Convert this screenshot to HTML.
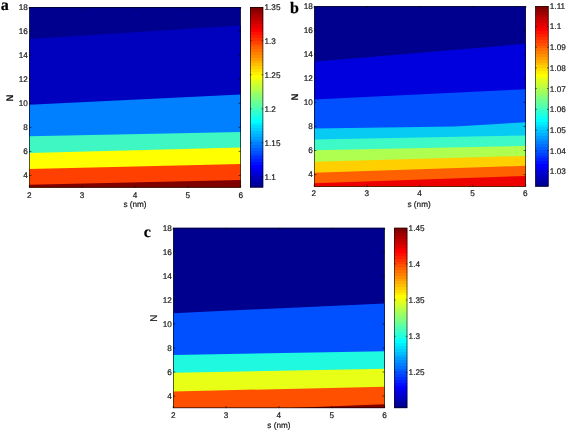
<!DOCTYPE html>
<html><head><meta charset="utf-8"><title>Contour plots</title>
<style>
html,body{margin:0;padding:0;background:#fff;}
body{width:567px;height:431px;overflow:hidden;font-family:"Liberation Sans", sans-serif;}
svg{display:block;will-change:transform;text-rendering:geometricPrecision;}
text{fill:#1a1a1a;stroke:#1a1a1a;stroke-width:0.2px;}
.L{fill:#000;stroke:#000;}
</style></head><body>
<svg width="567" height="431" viewBox="0 0 567 431">
<defs><linearGradient id="ga" x1="0" y1="1" x2="0" y2="0"><stop offset="0.00000" stop-color="rgb(0,0,143)"/><stop offset="0.01562" stop-color="rgb(0,0,143)"/><stop offset="0.01562" stop-color="rgb(0,0,159)"/><stop offset="0.03125" stop-color="rgb(0,0,159)"/><stop offset="0.03125" stop-color="rgb(0,0,175)"/><stop offset="0.04688" stop-color="rgb(0,0,175)"/><stop offset="0.04688" stop-color="rgb(0,0,191)"/><stop offset="0.06250" stop-color="rgb(0,0,191)"/><stop offset="0.06250" stop-color="rgb(0,0,207)"/><stop offset="0.07812" stop-color="rgb(0,0,207)"/><stop offset="0.07812" stop-color="rgb(0,0,223)"/><stop offset="0.09375" stop-color="rgb(0,0,223)"/><stop offset="0.09375" stop-color="rgb(0,0,239)"/><stop offset="0.10938" stop-color="rgb(0,0,239)"/><stop offset="0.10938" stop-color="rgb(0,0,255)"/><stop offset="0.12500" stop-color="rgb(0,0,255)"/><stop offset="0.12500" stop-color="rgb(0,16,255)"/><stop offset="0.14062" stop-color="rgb(0,16,255)"/><stop offset="0.14062" stop-color="rgb(0,32,255)"/><stop offset="0.15625" stop-color="rgb(0,32,255)"/><stop offset="0.15625" stop-color="rgb(0,48,255)"/><stop offset="0.17188" stop-color="rgb(0,48,255)"/><stop offset="0.17188" stop-color="rgb(0,64,255)"/><stop offset="0.18750" stop-color="rgb(0,64,255)"/><stop offset="0.18750" stop-color="rgb(0,80,255)"/><stop offset="0.20312" stop-color="rgb(0,80,255)"/><stop offset="0.20312" stop-color="rgb(0,96,255)"/><stop offset="0.21875" stop-color="rgb(0,96,255)"/><stop offset="0.21875" stop-color="rgb(0,112,255)"/><stop offset="0.23438" stop-color="rgb(0,112,255)"/><stop offset="0.23438" stop-color="rgb(0,128,255)"/><stop offset="0.25000" stop-color="rgb(0,128,255)"/><stop offset="0.25000" stop-color="rgb(0,143,255)"/><stop offset="0.26562" stop-color="rgb(0,143,255)"/><stop offset="0.26562" stop-color="rgb(0,159,255)"/><stop offset="0.28125" stop-color="rgb(0,159,255)"/><stop offset="0.28125" stop-color="rgb(0,175,255)"/><stop offset="0.29688" stop-color="rgb(0,175,255)"/><stop offset="0.29688" stop-color="rgb(0,191,255)"/><stop offset="0.31250" stop-color="rgb(0,191,255)"/><stop offset="0.31250" stop-color="rgb(0,207,255)"/><stop offset="0.32812" stop-color="rgb(0,207,255)"/><stop offset="0.32812" stop-color="rgb(0,223,255)"/><stop offset="0.34375" stop-color="rgb(0,223,255)"/><stop offset="0.34375" stop-color="rgb(0,239,255)"/><stop offset="0.35938" stop-color="rgb(0,239,255)"/><stop offset="0.35938" stop-color="rgb(0,255,255)"/><stop offset="0.37500" stop-color="rgb(0,255,255)"/><stop offset="0.37500" stop-color="rgb(16,255,239)"/><stop offset="0.39062" stop-color="rgb(16,255,239)"/><stop offset="0.39062" stop-color="rgb(32,255,223)"/><stop offset="0.40625" stop-color="rgb(32,255,223)"/><stop offset="0.40625" stop-color="rgb(48,255,207)"/><stop offset="0.42188" stop-color="rgb(48,255,207)"/><stop offset="0.42188" stop-color="rgb(64,255,191)"/><stop offset="0.43750" stop-color="rgb(64,255,191)"/><stop offset="0.43750" stop-color="rgb(80,255,175)"/><stop offset="0.45312" stop-color="rgb(80,255,175)"/><stop offset="0.45312" stop-color="rgb(96,255,159)"/><stop offset="0.46875" stop-color="rgb(96,255,159)"/><stop offset="0.46875" stop-color="rgb(112,255,143)"/><stop offset="0.48438" stop-color="rgb(112,255,143)"/><stop offset="0.48438" stop-color="rgb(128,255,128)"/><stop offset="0.50000" stop-color="rgb(128,255,128)"/><stop offset="0.50000" stop-color="rgb(143,255,112)"/><stop offset="0.51562" stop-color="rgb(143,255,112)"/><stop offset="0.51562" stop-color="rgb(159,255,96)"/><stop offset="0.53125" stop-color="rgb(159,255,96)"/><stop offset="0.53125" stop-color="rgb(175,255,80)"/><stop offset="0.54688" stop-color="rgb(175,255,80)"/><stop offset="0.54688" stop-color="rgb(191,255,64)"/><stop offset="0.56250" stop-color="rgb(191,255,64)"/><stop offset="0.56250" stop-color="rgb(207,255,48)"/><stop offset="0.57812" stop-color="rgb(207,255,48)"/><stop offset="0.57812" stop-color="rgb(223,255,32)"/><stop offset="0.59375" stop-color="rgb(223,255,32)"/><stop offset="0.59375" stop-color="rgb(239,255,16)"/><stop offset="0.60938" stop-color="rgb(239,255,16)"/><stop offset="0.60938" stop-color="rgb(255,255,0)"/><stop offset="0.62500" stop-color="rgb(255,255,0)"/><stop offset="0.62500" stop-color="rgb(255,239,0)"/><stop offset="0.64062" stop-color="rgb(255,239,0)"/><stop offset="0.64062" stop-color="rgb(255,223,0)"/><stop offset="0.65625" stop-color="rgb(255,223,0)"/><stop offset="0.65625" stop-color="rgb(255,207,0)"/><stop offset="0.67188" stop-color="rgb(255,207,0)"/><stop offset="0.67188" stop-color="rgb(255,191,0)"/><stop offset="0.68750" stop-color="rgb(255,191,0)"/><stop offset="0.68750" stop-color="rgb(255,175,0)"/><stop offset="0.70312" stop-color="rgb(255,175,0)"/><stop offset="0.70312" stop-color="rgb(255,159,0)"/><stop offset="0.71875" stop-color="rgb(255,159,0)"/><stop offset="0.71875" stop-color="rgb(255,143,0)"/><stop offset="0.73438" stop-color="rgb(255,143,0)"/><stop offset="0.73438" stop-color="rgb(255,128,0)"/><stop offset="0.75000" stop-color="rgb(255,128,0)"/><stop offset="0.75000" stop-color="rgb(255,112,0)"/><stop offset="0.76562" stop-color="rgb(255,112,0)"/><stop offset="0.76562" stop-color="rgb(255,96,0)"/><stop offset="0.78125" stop-color="rgb(255,96,0)"/><stop offset="0.78125" stop-color="rgb(255,80,0)"/><stop offset="0.79688" stop-color="rgb(255,80,0)"/><stop offset="0.79688" stop-color="rgb(255,64,0)"/><stop offset="0.81250" stop-color="rgb(255,64,0)"/><stop offset="0.81250" stop-color="rgb(255,48,0)"/><stop offset="0.82812" stop-color="rgb(255,48,0)"/><stop offset="0.82812" stop-color="rgb(255,32,0)"/><stop offset="0.84375" stop-color="rgb(255,32,0)"/><stop offset="0.84375" stop-color="rgb(255,16,0)"/><stop offset="0.85938" stop-color="rgb(255,16,0)"/><stop offset="0.85938" stop-color="rgb(255,0,0)"/><stop offset="0.87500" stop-color="rgb(255,0,0)"/><stop offset="0.87500" stop-color="rgb(239,0,0)"/><stop offset="0.89062" stop-color="rgb(239,0,0)"/><stop offset="0.89062" stop-color="rgb(223,0,0)"/><stop offset="0.90625" stop-color="rgb(223,0,0)"/><stop offset="0.90625" stop-color="rgb(207,0,0)"/><stop offset="0.92188" stop-color="rgb(207,0,0)"/><stop offset="0.92188" stop-color="rgb(191,0,0)"/><stop offset="0.93750" stop-color="rgb(191,0,0)"/><stop offset="0.93750" stop-color="rgb(175,0,0)"/><stop offset="0.95312" stop-color="rgb(175,0,0)"/><stop offset="0.95312" stop-color="rgb(159,0,0)"/><stop offset="0.96875" stop-color="rgb(159,0,0)"/><stop offset="0.96875" stop-color="rgb(143,0,0)"/><stop offset="0.98438" stop-color="rgb(143,0,0)"/><stop offset="0.98438" stop-color="rgb(128,0,0)"/><stop offset="1.00000" stop-color="rgb(128,0,0)"/></linearGradient><linearGradient id="gb" x1="0" y1="1" x2="0" y2="0"><stop offset="0.00000" stop-color="rgb(0,0,143)"/><stop offset="0.01562" stop-color="rgb(0,0,143)"/><stop offset="0.01562" stop-color="rgb(0,0,159)"/><stop offset="0.03125" stop-color="rgb(0,0,159)"/><stop offset="0.03125" stop-color="rgb(0,0,175)"/><stop offset="0.04688" stop-color="rgb(0,0,175)"/><stop offset="0.04688" stop-color="rgb(0,0,191)"/><stop offset="0.06250" stop-color="rgb(0,0,191)"/><stop offset="0.06250" stop-color="rgb(0,0,207)"/><stop offset="0.07812" stop-color="rgb(0,0,207)"/><stop offset="0.07812" stop-color="rgb(0,0,223)"/><stop offset="0.09375" stop-color="rgb(0,0,223)"/><stop offset="0.09375" stop-color="rgb(0,0,239)"/><stop offset="0.10938" stop-color="rgb(0,0,239)"/><stop offset="0.10938" stop-color="rgb(0,0,255)"/><stop offset="0.12500" stop-color="rgb(0,0,255)"/><stop offset="0.12500" stop-color="rgb(0,16,255)"/><stop offset="0.14062" stop-color="rgb(0,16,255)"/><stop offset="0.14062" stop-color="rgb(0,32,255)"/><stop offset="0.15625" stop-color="rgb(0,32,255)"/><stop offset="0.15625" stop-color="rgb(0,48,255)"/><stop offset="0.17188" stop-color="rgb(0,48,255)"/><stop offset="0.17188" stop-color="rgb(0,64,255)"/><stop offset="0.18750" stop-color="rgb(0,64,255)"/><stop offset="0.18750" stop-color="rgb(0,80,255)"/><stop offset="0.20312" stop-color="rgb(0,80,255)"/><stop offset="0.20312" stop-color="rgb(0,96,255)"/><stop offset="0.21875" stop-color="rgb(0,96,255)"/><stop offset="0.21875" stop-color="rgb(0,112,255)"/><stop offset="0.23438" stop-color="rgb(0,112,255)"/><stop offset="0.23438" stop-color="rgb(0,128,255)"/><stop offset="0.25000" stop-color="rgb(0,128,255)"/><stop offset="0.25000" stop-color="rgb(0,143,255)"/><stop offset="0.26562" stop-color="rgb(0,143,255)"/><stop offset="0.26562" stop-color="rgb(0,159,255)"/><stop offset="0.28125" stop-color="rgb(0,159,255)"/><stop offset="0.28125" stop-color="rgb(0,175,255)"/><stop offset="0.29688" stop-color="rgb(0,175,255)"/><stop offset="0.29688" stop-color="rgb(0,191,255)"/><stop offset="0.31250" stop-color="rgb(0,191,255)"/><stop offset="0.31250" stop-color="rgb(0,207,255)"/><stop offset="0.32812" stop-color="rgb(0,207,255)"/><stop offset="0.32812" stop-color="rgb(0,223,255)"/><stop offset="0.34375" stop-color="rgb(0,223,255)"/><stop offset="0.34375" stop-color="rgb(0,239,255)"/><stop offset="0.35938" stop-color="rgb(0,239,255)"/><stop offset="0.35938" stop-color="rgb(0,255,255)"/><stop offset="0.37500" stop-color="rgb(0,255,255)"/><stop offset="0.37500" stop-color="rgb(16,255,239)"/><stop offset="0.39062" stop-color="rgb(16,255,239)"/><stop offset="0.39062" stop-color="rgb(32,255,223)"/><stop offset="0.40625" stop-color="rgb(32,255,223)"/><stop offset="0.40625" stop-color="rgb(48,255,207)"/><stop offset="0.42188" stop-color="rgb(48,255,207)"/><stop offset="0.42188" stop-color="rgb(64,255,191)"/><stop offset="0.43750" stop-color="rgb(64,255,191)"/><stop offset="0.43750" stop-color="rgb(80,255,175)"/><stop offset="0.45312" stop-color="rgb(80,255,175)"/><stop offset="0.45312" stop-color="rgb(96,255,159)"/><stop offset="0.46875" stop-color="rgb(96,255,159)"/><stop offset="0.46875" stop-color="rgb(112,255,143)"/><stop offset="0.48438" stop-color="rgb(112,255,143)"/><stop offset="0.48438" stop-color="rgb(128,255,128)"/><stop offset="0.50000" stop-color="rgb(128,255,128)"/><stop offset="0.50000" stop-color="rgb(143,255,112)"/><stop offset="0.51562" stop-color="rgb(143,255,112)"/><stop offset="0.51562" stop-color="rgb(159,255,96)"/><stop offset="0.53125" stop-color="rgb(159,255,96)"/><stop offset="0.53125" stop-color="rgb(175,255,80)"/><stop offset="0.54688" stop-color="rgb(175,255,80)"/><stop offset="0.54688" stop-color="rgb(191,255,64)"/><stop offset="0.56250" stop-color="rgb(191,255,64)"/><stop offset="0.56250" stop-color="rgb(207,255,48)"/><stop offset="0.57812" stop-color="rgb(207,255,48)"/><stop offset="0.57812" stop-color="rgb(223,255,32)"/><stop offset="0.59375" stop-color="rgb(223,255,32)"/><stop offset="0.59375" stop-color="rgb(239,255,16)"/><stop offset="0.60938" stop-color="rgb(239,255,16)"/><stop offset="0.60938" stop-color="rgb(255,255,0)"/><stop offset="0.62500" stop-color="rgb(255,255,0)"/><stop offset="0.62500" stop-color="rgb(255,239,0)"/><stop offset="0.64062" stop-color="rgb(255,239,0)"/><stop offset="0.64062" stop-color="rgb(255,223,0)"/><stop offset="0.65625" stop-color="rgb(255,223,0)"/><stop offset="0.65625" stop-color="rgb(255,207,0)"/><stop offset="0.67188" stop-color="rgb(255,207,0)"/><stop offset="0.67188" stop-color="rgb(255,191,0)"/><stop offset="0.68750" stop-color="rgb(255,191,0)"/><stop offset="0.68750" stop-color="rgb(255,175,0)"/><stop offset="0.70312" stop-color="rgb(255,175,0)"/><stop offset="0.70312" stop-color="rgb(255,159,0)"/><stop offset="0.71875" stop-color="rgb(255,159,0)"/><stop offset="0.71875" stop-color="rgb(255,143,0)"/><stop offset="0.73438" stop-color="rgb(255,143,0)"/><stop offset="0.73438" stop-color="rgb(255,128,0)"/><stop offset="0.75000" stop-color="rgb(255,128,0)"/><stop offset="0.75000" stop-color="rgb(255,112,0)"/><stop offset="0.76562" stop-color="rgb(255,112,0)"/><stop offset="0.76562" stop-color="rgb(255,96,0)"/><stop offset="0.78125" stop-color="rgb(255,96,0)"/><stop offset="0.78125" stop-color="rgb(255,80,0)"/><stop offset="0.79688" stop-color="rgb(255,80,0)"/><stop offset="0.79688" stop-color="rgb(255,64,0)"/><stop offset="0.81250" stop-color="rgb(255,64,0)"/><stop offset="0.81250" stop-color="rgb(255,48,0)"/><stop offset="0.82812" stop-color="rgb(255,48,0)"/><stop offset="0.82812" stop-color="rgb(255,32,0)"/><stop offset="0.84375" stop-color="rgb(255,32,0)"/><stop offset="0.84375" stop-color="rgb(255,16,0)"/><stop offset="0.85938" stop-color="rgb(255,16,0)"/><stop offset="0.85938" stop-color="rgb(255,0,0)"/><stop offset="0.87500" stop-color="rgb(255,0,0)"/><stop offset="0.87500" stop-color="rgb(239,0,0)"/><stop offset="0.89062" stop-color="rgb(239,0,0)"/><stop offset="0.89062" stop-color="rgb(223,0,0)"/><stop offset="0.90625" stop-color="rgb(223,0,0)"/><stop offset="0.90625" stop-color="rgb(207,0,0)"/><stop offset="0.92188" stop-color="rgb(207,0,0)"/><stop offset="0.92188" stop-color="rgb(191,0,0)"/><stop offset="0.93750" stop-color="rgb(191,0,0)"/><stop offset="0.93750" stop-color="rgb(175,0,0)"/><stop offset="0.95312" stop-color="rgb(175,0,0)"/><stop offset="0.95312" stop-color="rgb(159,0,0)"/><stop offset="0.96875" stop-color="rgb(159,0,0)"/><stop offset="0.96875" stop-color="rgb(143,0,0)"/><stop offset="0.98438" stop-color="rgb(143,0,0)"/><stop offset="0.98438" stop-color="rgb(128,0,0)"/><stop offset="1.00000" stop-color="rgb(128,0,0)"/></linearGradient><linearGradient id="gc" x1="0" y1="1" x2="0" y2="0"><stop offset="0.00000" stop-color="rgb(0,0,143)"/><stop offset="0.01562" stop-color="rgb(0,0,143)"/><stop offset="0.01562" stop-color="rgb(0,0,159)"/><stop offset="0.03125" stop-color="rgb(0,0,159)"/><stop offset="0.03125" stop-color="rgb(0,0,175)"/><stop offset="0.04688" stop-color="rgb(0,0,175)"/><stop offset="0.04688" stop-color="rgb(0,0,191)"/><stop offset="0.06250" stop-color="rgb(0,0,191)"/><stop offset="0.06250" stop-color="rgb(0,0,207)"/><stop offset="0.07812" stop-color="rgb(0,0,207)"/><stop offset="0.07812" stop-color="rgb(0,0,223)"/><stop offset="0.09375" stop-color="rgb(0,0,223)"/><stop offset="0.09375" stop-color="rgb(0,0,239)"/><stop offset="0.10938" stop-color="rgb(0,0,239)"/><stop offset="0.10938" stop-color="rgb(0,0,255)"/><stop offset="0.12500" stop-color="rgb(0,0,255)"/><stop offset="0.12500" stop-color="rgb(0,16,255)"/><stop offset="0.14062" stop-color="rgb(0,16,255)"/><stop offset="0.14062" stop-color="rgb(0,32,255)"/><stop offset="0.15625" stop-color="rgb(0,32,255)"/><stop offset="0.15625" stop-color="rgb(0,48,255)"/><stop offset="0.17188" stop-color="rgb(0,48,255)"/><stop offset="0.17188" stop-color="rgb(0,64,255)"/><stop offset="0.18750" stop-color="rgb(0,64,255)"/><stop offset="0.18750" stop-color="rgb(0,80,255)"/><stop offset="0.20312" stop-color="rgb(0,80,255)"/><stop offset="0.20312" stop-color="rgb(0,96,255)"/><stop offset="0.21875" stop-color="rgb(0,96,255)"/><stop offset="0.21875" stop-color="rgb(0,112,255)"/><stop offset="0.23438" stop-color="rgb(0,112,255)"/><stop offset="0.23438" stop-color="rgb(0,128,255)"/><stop offset="0.25000" stop-color="rgb(0,128,255)"/><stop offset="0.25000" stop-color="rgb(0,143,255)"/><stop offset="0.26562" stop-color="rgb(0,143,255)"/><stop offset="0.26562" stop-color="rgb(0,159,255)"/><stop offset="0.28125" stop-color="rgb(0,159,255)"/><stop offset="0.28125" stop-color="rgb(0,175,255)"/><stop offset="0.29688" stop-color="rgb(0,175,255)"/><stop offset="0.29688" stop-color="rgb(0,191,255)"/><stop offset="0.31250" stop-color="rgb(0,191,255)"/><stop offset="0.31250" stop-color="rgb(0,207,255)"/><stop offset="0.32812" stop-color="rgb(0,207,255)"/><stop offset="0.32812" stop-color="rgb(0,223,255)"/><stop offset="0.34375" stop-color="rgb(0,223,255)"/><stop offset="0.34375" stop-color="rgb(0,239,255)"/><stop offset="0.35938" stop-color="rgb(0,239,255)"/><stop offset="0.35938" stop-color="rgb(0,255,255)"/><stop offset="0.37500" stop-color="rgb(0,255,255)"/><stop offset="0.37500" stop-color="rgb(16,255,239)"/><stop offset="0.39062" stop-color="rgb(16,255,239)"/><stop offset="0.39062" stop-color="rgb(32,255,223)"/><stop offset="0.40625" stop-color="rgb(32,255,223)"/><stop offset="0.40625" stop-color="rgb(48,255,207)"/><stop offset="0.42188" stop-color="rgb(48,255,207)"/><stop offset="0.42188" stop-color="rgb(64,255,191)"/><stop offset="0.43750" stop-color="rgb(64,255,191)"/><stop offset="0.43750" stop-color="rgb(80,255,175)"/><stop offset="0.45312" stop-color="rgb(80,255,175)"/><stop offset="0.45312" stop-color="rgb(96,255,159)"/><stop offset="0.46875" stop-color="rgb(96,255,159)"/><stop offset="0.46875" stop-color="rgb(112,255,143)"/><stop offset="0.48438" stop-color="rgb(112,255,143)"/><stop offset="0.48438" stop-color="rgb(128,255,128)"/><stop offset="0.50000" stop-color="rgb(128,255,128)"/><stop offset="0.50000" stop-color="rgb(143,255,112)"/><stop offset="0.51562" stop-color="rgb(143,255,112)"/><stop offset="0.51562" stop-color="rgb(159,255,96)"/><stop offset="0.53125" stop-color="rgb(159,255,96)"/><stop offset="0.53125" stop-color="rgb(175,255,80)"/><stop offset="0.54688" stop-color="rgb(175,255,80)"/><stop offset="0.54688" stop-color="rgb(191,255,64)"/><stop offset="0.56250" stop-color="rgb(191,255,64)"/><stop offset="0.56250" stop-color="rgb(207,255,48)"/><stop offset="0.57812" stop-color="rgb(207,255,48)"/><stop offset="0.57812" stop-color="rgb(223,255,32)"/><stop offset="0.59375" stop-color="rgb(223,255,32)"/><stop offset="0.59375" stop-color="rgb(239,255,16)"/><stop offset="0.60938" stop-color="rgb(239,255,16)"/><stop offset="0.60938" stop-color="rgb(255,255,0)"/><stop offset="0.62500" stop-color="rgb(255,255,0)"/><stop offset="0.62500" stop-color="rgb(255,239,0)"/><stop offset="0.64062" stop-color="rgb(255,239,0)"/><stop offset="0.64062" stop-color="rgb(255,223,0)"/><stop offset="0.65625" stop-color="rgb(255,223,0)"/><stop offset="0.65625" stop-color="rgb(255,207,0)"/><stop offset="0.67188" stop-color="rgb(255,207,0)"/><stop offset="0.67188" stop-color="rgb(255,191,0)"/><stop offset="0.68750" stop-color="rgb(255,191,0)"/><stop offset="0.68750" stop-color="rgb(255,175,0)"/><stop offset="0.70312" stop-color="rgb(255,175,0)"/><stop offset="0.70312" stop-color="rgb(255,159,0)"/><stop offset="0.71875" stop-color="rgb(255,159,0)"/><stop offset="0.71875" stop-color="rgb(255,143,0)"/><stop offset="0.73438" stop-color="rgb(255,143,0)"/><stop offset="0.73438" stop-color="rgb(255,128,0)"/><stop offset="0.75000" stop-color="rgb(255,128,0)"/><stop offset="0.75000" stop-color="rgb(255,112,0)"/><stop offset="0.76562" stop-color="rgb(255,112,0)"/><stop offset="0.76562" stop-color="rgb(255,96,0)"/><stop offset="0.78125" stop-color="rgb(255,96,0)"/><stop offset="0.78125" stop-color="rgb(255,80,0)"/><stop offset="0.79688" stop-color="rgb(255,80,0)"/><stop offset="0.79688" stop-color="rgb(255,64,0)"/><stop offset="0.81250" stop-color="rgb(255,64,0)"/><stop offset="0.81250" stop-color="rgb(255,48,0)"/><stop offset="0.82812" stop-color="rgb(255,48,0)"/><stop offset="0.82812" stop-color="rgb(255,32,0)"/><stop offset="0.84375" stop-color="rgb(255,32,0)"/><stop offset="0.84375" stop-color="rgb(255,16,0)"/><stop offset="0.85938" stop-color="rgb(255,16,0)"/><stop offset="0.85938" stop-color="rgb(255,0,0)"/><stop offset="0.87500" stop-color="rgb(255,0,0)"/><stop offset="0.87500" stop-color="rgb(239,0,0)"/><stop offset="0.89062" stop-color="rgb(239,0,0)"/><stop offset="0.89062" stop-color="rgb(223,0,0)"/><stop offset="0.90625" stop-color="rgb(223,0,0)"/><stop offset="0.90625" stop-color="rgb(207,0,0)"/><stop offset="0.92188" stop-color="rgb(207,0,0)"/><stop offset="0.92188" stop-color="rgb(191,0,0)"/><stop offset="0.93750" stop-color="rgb(191,0,0)"/><stop offset="0.93750" stop-color="rgb(175,0,0)"/><stop offset="0.95312" stop-color="rgb(175,0,0)"/><stop offset="0.95312" stop-color="rgb(159,0,0)"/><stop offset="0.96875" stop-color="rgb(159,0,0)"/><stop offset="0.96875" stop-color="rgb(143,0,0)"/><stop offset="0.98438" stop-color="rgb(143,0,0)"/><stop offset="0.98438" stop-color="rgb(128,0,0)"/><stop offset="1.00000" stop-color="rgb(128,0,0)"/></linearGradient></defs>
<rect width="567" height="431" fill="#fff"/>
<g font-family="Liberation Sans, sans-serif" font-size="8.2">
<rect x="29.30" y="7.00" width="211.40" height="180.50" fill="rgb(0,0,143)"/>
<polygon points="29.30,39.10 240.70,25.60 240.70,187.50 29.30,187.50" fill="rgb(0,0,191)"/>
<polygon points="29.30,104.85 240.70,94.60 240.70,187.50 29.30,187.50" fill="rgb(0,128,255)"/>
<polygon points="29.30,136.20 240.70,132.00 240.70,187.50 29.30,187.50" fill="rgb(62,247,195)"/>
<polygon points="29.30,153.00 240.70,147.60 240.70,187.50 29.30,187.50" fill="rgb(255,255,0)"/>
<polygon points="29.30,168.90 240.70,164.00 240.70,187.50 29.30,187.50" fill="rgb(255,64,0)"/>
<polygon points="29.30,184.70 240.70,180.00 240.70,187.50 29.30,187.50" fill="rgb(128,0,0)"/>
<rect x="29.60" y="7.30" width="210.80" height="179.90" fill="none" stroke="#000" stroke-width="0.6"/>
<line x1="29.30" y1="187.50" x2="29.30" y2="185.40" stroke="#000" stroke-width="0.6"/>
<line x1="29.30" y1="7.00" x2="29.30" y2="9.10" stroke="#000" stroke-width="0.6"/>
<text x="29.30" y="197.80" text-anchor="middle">2</text>
<line x1="82.15" y1="187.50" x2="82.15" y2="185.40" stroke="#000" stroke-width="0.6"/>
<line x1="82.15" y1="7.00" x2="82.15" y2="9.10" stroke="#000" stroke-width="0.6"/>
<text x="82.15" y="197.80" text-anchor="middle">3</text>
<line x1="135.00" y1="187.50" x2="135.00" y2="185.40" stroke="#000" stroke-width="0.6"/>
<line x1="135.00" y1="7.00" x2="135.00" y2="9.10" stroke="#000" stroke-width="0.6"/>
<text x="135.00" y="197.80" text-anchor="middle">4</text>
<line x1="187.85" y1="187.50" x2="187.85" y2="185.40" stroke="#000" stroke-width="0.6"/>
<line x1="187.85" y1="7.00" x2="187.85" y2="9.10" stroke="#000" stroke-width="0.6"/>
<text x="187.85" y="197.80" text-anchor="middle">5</text>
<line x1="240.70" y1="187.50" x2="240.70" y2="185.40" stroke="#000" stroke-width="0.6"/>
<line x1="240.70" y1="7.00" x2="240.70" y2="9.10" stroke="#000" stroke-width="0.6"/>
<text x="240.70" y="197.80" text-anchor="middle">6</text>
<line x1="29.30" y1="175.47" x2="31.40" y2="175.47" stroke="#000" stroke-width="0.6"/>
<line x1="240.70" y1="175.47" x2="238.60" y2="175.47" stroke="#000" stroke-width="0.6"/>
<text x="27.90" y="178.37" text-anchor="end">4</text>
<line x1="29.30" y1="151.40" x2="31.40" y2="151.40" stroke="#000" stroke-width="0.6"/>
<line x1="240.70" y1="151.40" x2="238.60" y2="151.40" stroke="#000" stroke-width="0.6"/>
<text x="27.90" y="154.30" text-anchor="end">6</text>
<line x1="29.30" y1="127.33" x2="31.40" y2="127.33" stroke="#000" stroke-width="0.6"/>
<line x1="240.70" y1="127.33" x2="238.60" y2="127.33" stroke="#000" stroke-width="0.6"/>
<text x="27.90" y="130.23" text-anchor="end">8</text>
<line x1="29.30" y1="103.27" x2="31.40" y2="103.27" stroke="#000" stroke-width="0.6"/>
<line x1="240.70" y1="103.27" x2="238.60" y2="103.27" stroke="#000" stroke-width="0.6"/>
<text x="27.90" y="106.17" text-anchor="end">10</text>
<line x1="29.30" y1="79.20" x2="31.40" y2="79.20" stroke="#000" stroke-width="0.6"/>
<line x1="240.70" y1="79.20" x2="238.60" y2="79.20" stroke="#000" stroke-width="0.6"/>
<text x="27.90" y="82.10" text-anchor="end">12</text>
<line x1="29.30" y1="55.13" x2="31.40" y2="55.13" stroke="#000" stroke-width="0.6"/>
<line x1="240.70" y1="55.13" x2="238.60" y2="55.13" stroke="#000" stroke-width="0.6"/>
<text x="27.90" y="58.03" text-anchor="end">14</text>
<line x1="29.30" y1="31.07" x2="31.40" y2="31.07" stroke="#000" stroke-width="0.6"/>
<line x1="240.70" y1="31.07" x2="238.60" y2="31.07" stroke="#000" stroke-width="0.6"/>
<text x="27.90" y="33.97" text-anchor="end">16</text>
<text x="27.90" y="9.90" text-anchor="end">18</text>
<text x="135.00" y="207.30" text-anchor="middle">s (nm)</text>
<text x="12.70" y="97.95" text-anchor="middle" transform="rotate(-90 12.70 97.95)" font-size="9.5" font-weight="bold">N</text>
<rect x="250.00" y="7.00" width="13.20" height="180.50" fill="url(#ga)"/>
<rect x="250.30" y="7.30" width="12.60" height="179.90" fill="none" stroke="#000" stroke-width="0.6"/>
<text x="264.50" y="9.80">1.35</text>
<line x1="250.00" y1="40.86" x2="251.50" y2="40.86" stroke="#000" stroke-width="0.6"/>
<line x1="263.20" y1="40.86" x2="261.70" y2="40.86" stroke="#000" stroke-width="0.6"/>
<text x="264.50" y="43.76">1.3</text>
<line x1="250.00" y1="74.82" x2="251.50" y2="74.82" stroke="#000" stroke-width="0.6"/>
<line x1="263.20" y1="74.82" x2="261.70" y2="74.82" stroke="#000" stroke-width="0.6"/>
<text x="264.50" y="77.72">1.25</text>
<line x1="250.00" y1="108.78" x2="251.50" y2="108.78" stroke="#000" stroke-width="0.6"/>
<line x1="263.20" y1="108.78" x2="261.70" y2="108.78" stroke="#000" stroke-width="0.6"/>
<text x="264.50" y="111.68">1.2</text>
<line x1="250.00" y1="142.74" x2="251.50" y2="142.74" stroke="#000" stroke-width="0.6"/>
<line x1="263.20" y1="142.74" x2="261.70" y2="142.74" stroke="#000" stroke-width="0.6"/>
<text x="264.50" y="145.64">1.15</text>
<line x1="250.00" y1="176.70" x2="251.50" y2="176.70" stroke="#000" stroke-width="0.6"/>
<line x1="263.20" y1="176.70" x2="261.70" y2="176.70" stroke="#000" stroke-width="0.6"/>
<text x="264.50" y="179.60">1.1</text>
<text x="0.80" y="9.60" font-family="Liberation Serif, serif" font-weight="bold" font-size="16.0" class="L">a</text>
<rect x="314.20" y="6.10" width="211.60" height="180.50" fill="rgb(0,0,143)"/>
<polygon points="314.20,61.80 525.80,43.80 525.80,186.60 314.20,186.60" fill="rgb(0,0,223)"/>
<polygon points="314.20,99.50 525.80,89.20 525.80,186.60 314.20,186.60" fill="rgb(0,80,255)"/>
<polygon points="314.20,128.60 455.00,126.50 525.80,122.30 525.80,186.60 314.20,186.60" fill="rgb(8,203,243)"/>
<polygon points="314.20,139.50 525.80,135.40 525.80,186.60 314.20,186.60" fill="rgb(62,250,198)"/>
<polygon points="314.20,150.35 525.80,145.80 525.80,186.60 314.20,186.60" fill="rgb(175,255,80)"/>
<polygon points="314.20,161.70 525.80,155.90 525.80,186.60 314.20,186.60" fill="rgb(255,207,0)"/>
<polygon points="314.20,172.80 525.80,165.80 525.80,186.60 314.20,186.60" fill="rgb(255,96,0)"/>
<polygon points="314.20,183.20 525.80,175.90 525.80,186.60 314.20,186.60" fill="rgb(239,0,0)"/>
<rect x="314.50" y="6.40" width="211.00" height="179.90" fill="none" stroke="#000" stroke-width="0.6"/>
<line x1="314.20" y1="186.60" x2="314.20" y2="184.50" stroke="#000" stroke-width="0.6"/>
<line x1="314.20" y1="6.10" x2="314.20" y2="8.20" stroke="#000" stroke-width="0.6"/>
<text x="313.80" y="195.90" text-anchor="middle">2</text>
<line x1="367.10" y1="186.60" x2="367.10" y2="184.50" stroke="#000" stroke-width="0.6"/>
<line x1="367.10" y1="6.10" x2="367.10" y2="8.20" stroke="#000" stroke-width="0.6"/>
<text x="366.70" y="195.90" text-anchor="middle">3</text>
<line x1="420.00" y1="186.60" x2="420.00" y2="184.50" stroke="#000" stroke-width="0.6"/>
<line x1="420.00" y1="6.10" x2="420.00" y2="8.20" stroke="#000" stroke-width="0.6"/>
<text x="419.60" y="195.90" text-anchor="middle">4</text>
<line x1="472.90" y1="186.60" x2="472.90" y2="184.50" stroke="#000" stroke-width="0.6"/>
<line x1="472.90" y1="6.10" x2="472.90" y2="8.20" stroke="#000" stroke-width="0.6"/>
<text x="472.50" y="195.90" text-anchor="middle">5</text>
<line x1="525.80" y1="186.60" x2="525.80" y2="184.50" stroke="#000" stroke-width="0.6"/>
<line x1="525.80" y1="6.10" x2="525.80" y2="8.20" stroke="#000" stroke-width="0.6"/>
<text x="525.40" y="195.90" text-anchor="middle">6</text>
<line x1="314.20" y1="174.57" x2="316.30" y2="174.57" stroke="#000" stroke-width="0.6"/>
<line x1="525.80" y1="174.57" x2="523.70" y2="174.57" stroke="#000" stroke-width="0.6"/>
<text x="312.80" y="177.47" text-anchor="end">4</text>
<line x1="314.20" y1="150.50" x2="316.30" y2="150.50" stroke="#000" stroke-width="0.6"/>
<line x1="525.80" y1="150.50" x2="523.70" y2="150.50" stroke="#000" stroke-width="0.6"/>
<text x="312.80" y="153.40" text-anchor="end">6</text>
<line x1="314.20" y1="126.43" x2="316.30" y2="126.43" stroke="#000" stroke-width="0.6"/>
<line x1="525.80" y1="126.43" x2="523.70" y2="126.43" stroke="#000" stroke-width="0.6"/>
<text x="312.80" y="129.33" text-anchor="end">8</text>
<line x1="314.20" y1="102.37" x2="316.30" y2="102.37" stroke="#000" stroke-width="0.6"/>
<line x1="525.80" y1="102.37" x2="523.70" y2="102.37" stroke="#000" stroke-width="0.6"/>
<text x="312.80" y="105.27" text-anchor="end">10</text>
<line x1="314.20" y1="78.30" x2="316.30" y2="78.30" stroke="#000" stroke-width="0.6"/>
<line x1="525.80" y1="78.30" x2="523.70" y2="78.30" stroke="#000" stroke-width="0.6"/>
<text x="312.80" y="81.20" text-anchor="end">12</text>
<line x1="314.20" y1="54.23" x2="316.30" y2="54.23" stroke="#000" stroke-width="0.6"/>
<line x1="525.80" y1="54.23" x2="523.70" y2="54.23" stroke="#000" stroke-width="0.6"/>
<text x="312.80" y="57.13" text-anchor="end">14</text>
<line x1="314.20" y1="30.17" x2="316.30" y2="30.17" stroke="#000" stroke-width="0.6"/>
<line x1="525.80" y1="30.17" x2="523.70" y2="30.17" stroke="#000" stroke-width="0.6"/>
<text x="312.80" y="33.07" text-anchor="end">16</text>
<text x="312.80" y="9.00" text-anchor="end">18</text>
<text x="419.10" y="206.70" text-anchor="middle">s (nm)</text>
<text x="297.60" y="97.05" text-anchor="middle" transform="rotate(-90 297.60 97.05)" font-size="9.5" font-weight="bold">N</text>
<rect x="535.30" y="6.10" width="13.20" height="180.50" fill="url(#gb)"/>
<rect x="535.60" y="6.40" width="12.60" height="179.90" fill="none" stroke="#000" stroke-width="0.6"/>
<text x="549.80" y="8.70">1.11</text>
<line x1="535.30" y1="26.50" x2="536.80" y2="26.50" stroke="#000" stroke-width="0.6"/>
<line x1="548.50" y1="26.50" x2="547.00" y2="26.50" stroke="#000" stroke-width="0.6"/>
<text x="549.80" y="29.40">1.1</text>
<line x1="535.30" y1="47.20" x2="536.80" y2="47.20" stroke="#000" stroke-width="0.6"/>
<line x1="548.50" y1="47.20" x2="547.00" y2="47.20" stroke="#000" stroke-width="0.6"/>
<text x="549.80" y="50.10">1.09</text>
<line x1="535.30" y1="67.90" x2="536.80" y2="67.90" stroke="#000" stroke-width="0.6"/>
<line x1="548.50" y1="67.90" x2="547.00" y2="67.90" stroke="#000" stroke-width="0.6"/>
<text x="549.80" y="70.80">1.08</text>
<line x1="535.30" y1="88.60" x2="536.80" y2="88.60" stroke="#000" stroke-width="0.6"/>
<line x1="548.50" y1="88.60" x2="547.00" y2="88.60" stroke="#000" stroke-width="0.6"/>
<text x="549.80" y="91.50">1.07</text>
<line x1="535.30" y1="109.30" x2="536.80" y2="109.30" stroke="#000" stroke-width="0.6"/>
<line x1="548.50" y1="109.30" x2="547.00" y2="109.30" stroke="#000" stroke-width="0.6"/>
<text x="549.80" y="112.20">1.06</text>
<line x1="535.30" y1="130.00" x2="536.80" y2="130.00" stroke="#000" stroke-width="0.6"/>
<line x1="548.50" y1="130.00" x2="547.00" y2="130.00" stroke="#000" stroke-width="0.6"/>
<text x="549.80" y="132.90">1.05</text>
<line x1="535.30" y1="150.70" x2="536.80" y2="150.70" stroke="#000" stroke-width="0.6"/>
<line x1="548.50" y1="150.70" x2="547.00" y2="150.70" stroke="#000" stroke-width="0.6"/>
<text x="549.80" y="153.60">1.04</text>
<line x1="535.30" y1="171.40" x2="536.80" y2="171.40" stroke="#000" stroke-width="0.6"/>
<line x1="548.50" y1="171.40" x2="547.00" y2="171.40" stroke="#000" stroke-width="0.6"/>
<text x="549.80" y="174.30">1.03</text>
<text x="290.00" y="12.90" font-family="Liberation Serif, serif" font-weight="bold" font-size="16.0" class="L">b</text>
<rect x="173.20" y="227.80" width="211.40" height="180.30" fill="rgb(0,0,143)"/>
<polygon points="173.20,313.20 384.60,303.40 384.60,408.10 173.20,408.10" fill="rgb(0,80,255)"/>
<polygon points="173.20,354.90 384.60,351.30 384.60,408.10 173.20,408.10" fill="rgb(30,249,224)"/>
<polygon points="173.20,372.80 384.60,368.70 384.60,408.10 173.20,408.10" fill="rgb(232,255,22)"/>
<polygon points="173.20,391.50 384.60,386.70 384.60,408.10 173.20,408.10" fill="rgb(255,80,0)"/>
<polygon points="290.00,408.10 384.60,404.20 384.60,408.10 290.00,408.10" fill="rgb(128,0,0)"/>
<rect x="173.50" y="228.10" width="210.80" height="179.70" fill="none" stroke="#000" stroke-width="0.6"/>
<line x1="173.20" y1="408.10" x2="173.20" y2="406.00" stroke="#000" stroke-width="0.6"/>
<line x1="173.20" y1="227.80" x2="173.20" y2="229.90" stroke="#000" stroke-width="0.6"/>
<text x="173.20" y="417.90" text-anchor="middle">2</text>
<line x1="226.05" y1="408.10" x2="226.05" y2="406.00" stroke="#000" stroke-width="0.6"/>
<line x1="226.05" y1="227.80" x2="226.05" y2="229.90" stroke="#000" stroke-width="0.6"/>
<text x="226.05" y="417.90" text-anchor="middle">3</text>
<line x1="278.90" y1="408.10" x2="278.90" y2="406.00" stroke="#000" stroke-width="0.6"/>
<line x1="278.90" y1="227.80" x2="278.90" y2="229.90" stroke="#000" stroke-width="0.6"/>
<text x="278.90" y="417.90" text-anchor="middle">4</text>
<line x1="331.75" y1="408.10" x2="331.75" y2="406.00" stroke="#000" stroke-width="0.6"/>
<line x1="331.75" y1="227.80" x2="331.75" y2="229.90" stroke="#000" stroke-width="0.6"/>
<text x="331.75" y="417.90" text-anchor="middle">5</text>
<line x1="384.60" y1="408.10" x2="384.60" y2="406.00" stroke="#000" stroke-width="0.6"/>
<line x1="384.60" y1="227.80" x2="384.60" y2="229.90" stroke="#000" stroke-width="0.6"/>
<text x="384.60" y="417.90" text-anchor="middle">6</text>
<line x1="173.20" y1="396.08" x2="175.30" y2="396.08" stroke="#000" stroke-width="0.6"/>
<line x1="384.60" y1="396.08" x2="382.50" y2="396.08" stroke="#000" stroke-width="0.6"/>
<text x="171.80" y="398.98" text-anchor="end">4</text>
<line x1="173.20" y1="372.04" x2="175.30" y2="372.04" stroke="#000" stroke-width="0.6"/>
<line x1="384.60" y1="372.04" x2="382.50" y2="372.04" stroke="#000" stroke-width="0.6"/>
<text x="171.80" y="374.94" text-anchor="end">6</text>
<line x1="173.20" y1="348.00" x2="175.30" y2="348.00" stroke="#000" stroke-width="0.6"/>
<line x1="384.60" y1="348.00" x2="382.50" y2="348.00" stroke="#000" stroke-width="0.6"/>
<text x="171.80" y="350.90" text-anchor="end">8</text>
<line x1="173.20" y1="323.96" x2="175.30" y2="323.96" stroke="#000" stroke-width="0.6"/>
<line x1="384.60" y1="323.96" x2="382.50" y2="323.96" stroke="#000" stroke-width="0.6"/>
<text x="171.80" y="326.86" text-anchor="end">10</text>
<line x1="173.20" y1="299.92" x2="175.30" y2="299.92" stroke="#000" stroke-width="0.6"/>
<line x1="384.60" y1="299.92" x2="382.50" y2="299.92" stroke="#000" stroke-width="0.6"/>
<text x="171.80" y="302.82" text-anchor="end">12</text>
<line x1="173.20" y1="275.88" x2="175.30" y2="275.88" stroke="#000" stroke-width="0.6"/>
<line x1="384.60" y1="275.88" x2="382.50" y2="275.88" stroke="#000" stroke-width="0.6"/>
<text x="171.80" y="278.78" text-anchor="end">14</text>
<line x1="173.20" y1="251.84" x2="175.30" y2="251.84" stroke="#000" stroke-width="0.6"/>
<line x1="384.60" y1="251.84" x2="382.50" y2="251.84" stroke="#000" stroke-width="0.6"/>
<text x="171.80" y="254.74" text-anchor="end">16</text>
<text x="171.80" y="230.70" text-anchor="end">18</text>
<text x="278.90" y="428.00" text-anchor="middle">s (nm)</text>
<text x="156.60" y="318.15" text-anchor="middle" transform="rotate(-90 156.60 318.15)" font-size="9.8" font-weight="normal">N</text>
<rect x="394.10" y="227.80" width="13.20" height="180.30" fill="url(#gc)"/>
<rect x="394.40" y="228.10" width="12.60" height="179.70" fill="none" stroke="#000" stroke-width="0.6"/>
<text x="408.60" y="230.60">1.45</text>
<line x1="394.10" y1="263.90" x2="395.60" y2="263.90" stroke="#000" stroke-width="0.6"/>
<line x1="407.30" y1="263.90" x2="405.80" y2="263.90" stroke="#000" stroke-width="0.6"/>
<text x="408.60" y="266.80">1.4</text>
<line x1="394.10" y1="300.10" x2="395.60" y2="300.10" stroke="#000" stroke-width="0.6"/>
<line x1="407.30" y1="300.10" x2="405.80" y2="300.10" stroke="#000" stroke-width="0.6"/>
<text x="408.60" y="303.00">1.35</text>
<line x1="394.10" y1="336.30" x2="395.60" y2="336.30" stroke="#000" stroke-width="0.6"/>
<line x1="407.30" y1="336.30" x2="405.80" y2="336.30" stroke="#000" stroke-width="0.6"/>
<text x="408.60" y="339.20">1.3</text>
<line x1="394.10" y1="372.50" x2="395.60" y2="372.50" stroke="#000" stroke-width="0.6"/>
<line x1="407.30" y1="372.50" x2="405.80" y2="372.50" stroke="#000" stroke-width="0.6"/>
<text x="408.60" y="375.40">1.25</text>
<text x="143.80" y="237.40" font-family="Liberation Serif, serif" font-weight="bold" font-size="16.0" class="L">c</text>
</g></svg>
</body></html>
